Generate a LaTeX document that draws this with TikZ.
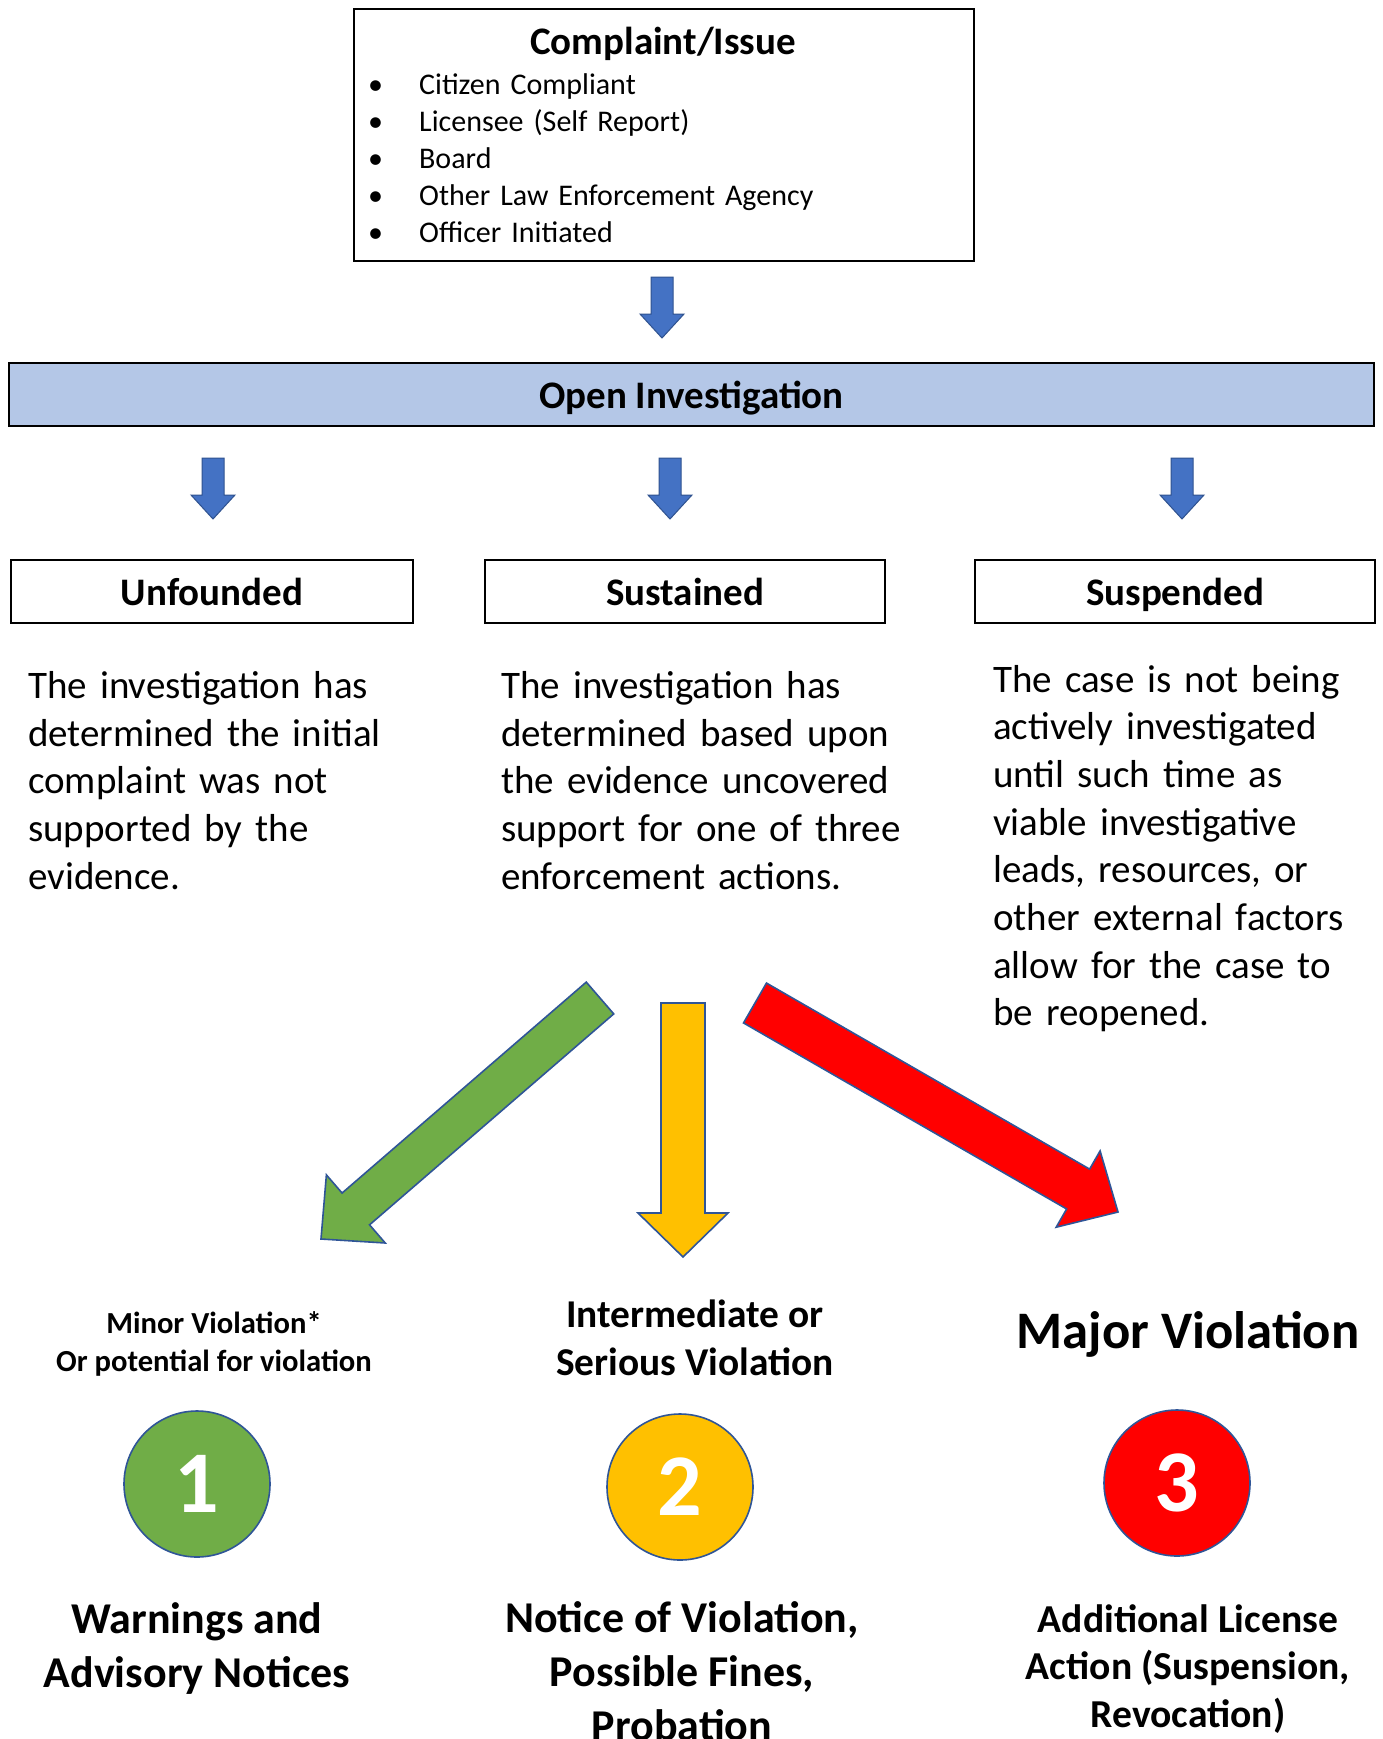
\documentclass[tikz,border=0pt]{standalone}
\usepackage{fontspec}
\setmainfont{Carlito}
\usetikzlibrary{calc}
\definecolor{barblue}{HTML}{B4C7E7}
\definecolor{arrblue}{HTML}{4472C4}
\definecolor{arredge}{HTML}{2F528F}
\definecolor{bigedge}{HTML}{2F5597}
\definecolor{cgreen}{HTML}{70AD47}
\definecolor{cyellow}{HTML}{FFC000}
\definecolor{cred}{HTML}{FF0000}
\newcommand\blockarrow[6]{%
  \coordinate (ba-c) at ($(#2)!#5!(#1)$);
  \draw[#6] ($(#1)!#3!90:(#2)$) -- ($(ba-c)!#3!90:(#2)$) -- ($(ba-c)!#4!90:(#2)$)
    -- (#2) -- ($(ba-c)!#4!-90:(#2)$) -- ($(ba-c)!#3!-90:(#2)$) -- ($(#1)!#3!-90:(#2)$) -- cycle;
}
\begin{document}
\begin{tikzpicture}[x=1pt,y=-1pt,
  frame/.style={draw=black, line width=1.4pt, inner sep=0pt},
  headtxt/.style={font=\fontsize{39}{47.6}\selectfont\bfseries, text height=27pt, text depth=0pt},
  para/.style={anchor=base west, inner sep=0pt, text width=420pt, align=left, font=\fontsize{39}{47.7}\selectfont},
  smallarrow/.style={fill=arrblue, draw=arredge, line width=1pt},
  bigarrow/.style={draw=bigedge, line width=1.6pt},
  disc/.style={circle, draw=bigedge, line width=1.6pt, minimum size=146pt, inner sep=0pt, text=white, font=\fontsize{88}{88}\selectfont\bfseries},
  lbl/.style={align=center, inner sep=0pt, font=\bfseries}
]
\useasboundingbox (0,0) rectangle (1382,1739);
\fill[white] (0,0) rectangle (1382,1739);

% Complaint box
\node[frame, minimum width=620pt, minimum height=252pt] (cbox) at (664,135) {};
\node[headtxt, inner sep=0pt] (ctitle) at (663,41) {Complaint/Issue};
\node[anchor=base west, inner sep=0pt, text width=600pt, align=left,
      font=\fontsize{30}{37}\selectfont] (clist) at (368,95)
  {\makebox[51pt][l]{•}Citizen Compliant\\
   \makebox[51pt][l]{•}Licensee (Self Report)\\
   \makebox[51pt][l]{•}Board\\
   \makebox[51pt][l]{•}Other Law Enforcement Agency\\
   \makebox[51pt][l]{•}Officer Initiated};

% Open Investigation bar
\node[frame, fill=barblue, minimum width=1365pt, minimum height=63pt, headtxt] (bar) at (691.5,394.5) {Open Investigation};

\coordinate (a0t) at (662,277); \coordinate (a0h) at (662,338);
\blockarrow{a0t}{a0h}{11pt}{22pt}{24pt}{smallarrow}

% Three boxes
\node[frame, minimum width=402pt, minimum height=63pt, headtxt] (unf) at (212,591.5) {Unfounded};
\node[frame, minimum width=400pt, minimum height=63pt, headtxt] (sus) at (685,591.5) {Sustained};
\node[frame, minimum width=400pt, minimum height=63pt, headtxt] (spd) at (1175,591.5) {Suspended};

\coordinate (a1t) at (213,458); \coordinate (a1h) at (213,519);
\coordinate (a2t) at (670,458); \coordinate (a2h) at (670,519);
\coordinate (a3t) at (1182,458); \coordinate (a3h) at (1182,519);
\blockarrow{a1t}{a1h}{11pt}{22pt}{24pt}{smallarrow}
\blockarrow{a2t}{a2h}{11pt}{22pt}{24pt}{smallarrow}
\blockarrow{a3t}{a3h}{11pt}{22pt}{24pt}{smallarrow}

% Paragraphs
\node[para] (punf) at (28,698.5) {The investigation has\\determined the initial\\complaint was not\\supported by the\\evidence.};
\node[para] (psus) at (501,698.5) {The investigation has\\determined based upon\\the evidence uncovered\\support for one of three\\enforcement actions.};
\node[para] (pspd) at (993,692) {The case is not being\\actively investigated\\until such time as\\viable investigative\\leads, resources, or\\other external factors\\allow for the case to\\be reopened.};

% Big arrows
\coordinate (gt) at (600,998); \coordinate (gh) at (321,1239);
\coordinate (yt) at (683,1003); \coordinate (yh) at (683,1257);
\coordinate (rt) at (755,1003); \coordinate (rh) at (1118,1212);
\blockarrow{gt}{gh}{21pt}{45pt}{46pt}{bigarrow, fill=cgreen}
\blockarrow{yt}{yh}{22pt}{45pt}{44pt}{bigarrow, fill=cyellow}
\blockarrow{rt}{rh}{23pt}{44pt}{46pt}{bigarrow, fill=cred}

% Labels
\node[lbl, font=\fontsize{30.6}{37.5}\selectfont\bfseries] (l1) at (214,1344) {Minor Violation*\\Or potential for violation};
\node[lbl, font=\fontsize{39.4}{48}\selectfont\bfseries] (l2) at (695,1338) {Intermediate or\\Serious Violation};
\node[lbl, font=\fontsize{52.7}{60}\selectfont\bfseries] (l3) at (1188,1334) {Major Violation};

% Circles
\node[disc, fill=cgreen] (c1) at (197,1484) {1};
\node[disc, fill=cyellow] (c2) at (680,1487) {2};
\node[disc, fill=cred] (c3) at (1177,1483) {3};

% Bottom texts
\node[lbl, font=\fontsize{44}{53.7}\selectfont\bfseries] (b1) at (197,1648.5) {Warnings and\\Advisory Notices};
\node[lbl, font=\fontsize{44}{53.7}\selectfont\bfseries] (b2) at (682,1671) {Notice of Violation,\\Possible Fines,\\Probation};
\node[lbl, font=\fontsize{39.6}{47.5}\selectfont\bfseries] (b3) at (1188,1669) {Additional License\\Action (Suspension,\\Revocation)};
\end{tikzpicture}
\end{document}
